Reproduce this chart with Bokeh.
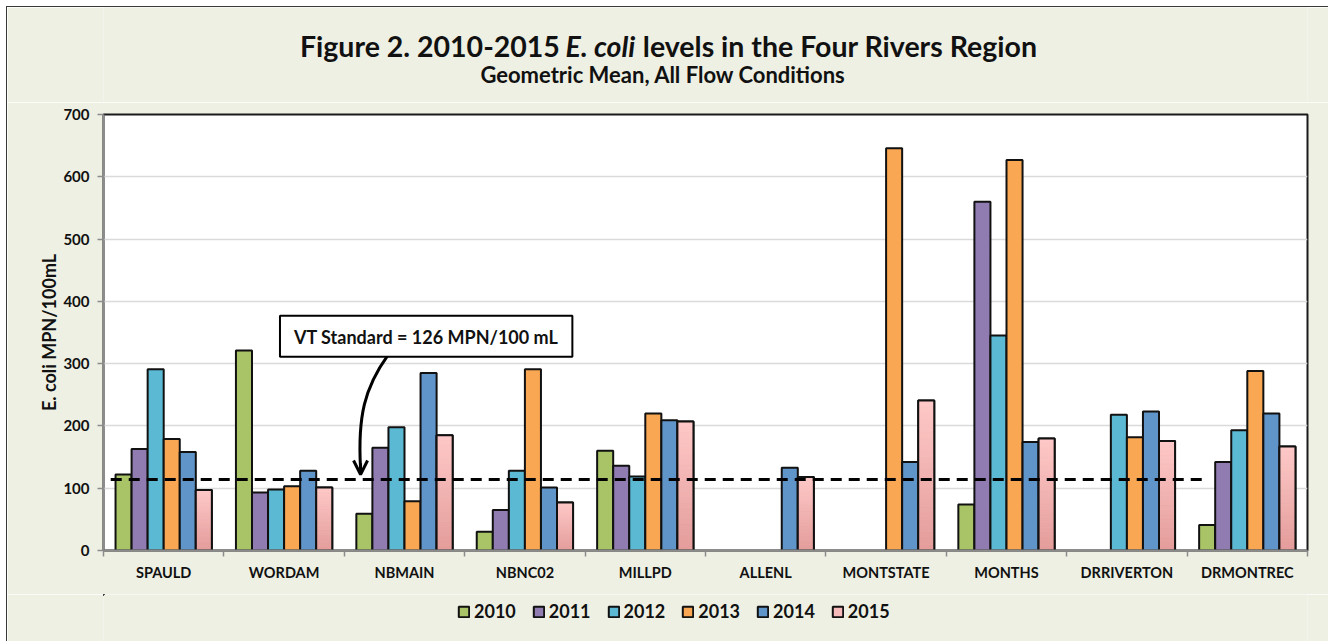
from bokeh.plotting import figure
from bokeh.layouts import column
from bokeh.models import (Range1d, LinearAxis, FixedTicker, ColumnDataSource, Label,
                          Legend, LegendItem, Arrow, OpenHead)
from bokeh.embed import file_html
from bokeh.resources import INLINE

# ---------------- data ----------------
sites = ["SPAULD", "WORDAM", "NBMAIN", "NBNC02", "MILLPD", "ALLENL",
         "MONTSTATE", "MONTHS", "DRRIVERTON", "DRMONTREC"]
years = ["2010", "2011", "2012", "2013", "2014", "2015"]
y2010 = [122, 321, 59, 30, 160, None, None, 74, None, 41]
y2011 = [163, 93, 165, 65, 136, None, None, 560, None, 142]
y2012 = [291, 98, 198, 128, 119, None, None, 345, 218, 193]
y2013 = [179, 103, 79, 291, 220, None, 646, 627, 182, 288]
y2014 = [158, 128, 285, 101, 209, 133, 142, 174, 223, 220]
y2015 = [97, 101, 185, 77, 207, 118, 241, 180, 176, 167]
series = [y2010, y2011, y2012, y2013, y2014, y2015]
y_ticks = [0, 100, 200, 300, 400, 500, 600, 700]
standard_line = 114
title_left = "Figure 2. 2010-2015"
title_italic = "E. coli"
title_right = "levels in the Four Rivers Region"
subtitle = "Geometric Mean,   All Flow Conditions"
y_label = "E. coli MPN/100mL"
note_text = "VT Standard = 126 MPN/100 mL"

# ---------------- style ----------------
colors = ["#a8c466", "#917cb1", "#5bb9d3", "#f9a752", "#6095c9", "#f7baba"]
pink_bottom = (0xe3, 0x9c, 0x9a)
pink_top = (0xfe, 0xc9, 0xc8)
FONT = "Lato"
BG = "#eef0e4"
INK = "#111111"
AXIS_GREY = "#8c8c8c"
OX, OY = 7, 7                 # page offset of the chart block (margin + border)
TW, TH = 1328 - OX, 641 - OY  # total block size
HH = 95                       # header height
MAIN_TOP, MAIN_BOTTOM = 12, 44
FRAME_L, FRAME_R, FRAME_T, FRAME_B = 103, 1307, 114, 550   # page pixels
MH = MAIN_TOP + (FRAME_B - FRAME_T) + MAIN_BOTTOM
FH = TH - HH - MH
BORDER_L = FRAME_L - OX
BORDER_R = TW - (FRAME_R - OX)


def band(height, page_top):
    # header / footer strip whose data coordinates are page pixels
    f = figure(width=TW, height=height, title=None,
               x_range=Range1d(FRAME_L, FRAME_R),
               y_range=Range1d(page_top + height, page_top),
               x_axis_location=None, y_axis_location=None,
               min_border_left=BORDER_L, min_border_right=BORDER_R,
               min_border_top=0, min_border_bottom=0,
               output_backend="svg", toolbar_location=None)
    f.grid.visible = False
    f.outline_line_color = None
    f.background_fill_color = BG
    f.border_fill_color = BG
    return f


# ---------------- header: title + subtitle ----------------
hdr = band(HH, OY)
tsize = 28.5
t_center = 662
gap = 0.2 * tsize
w_a, w_b, w_c = 8.97 * tsize, 2.51 * tsize, 13.26 * tsize
t_start = t_center - (w_a + gap + w_b + gap + w_c) / 2
xa_end = t_start + w_a
xb = xa_end + gap
xc = xb + w_b + gap
title_y = 45
common = dict(text_baseline="alphabetic", text_font=FONT, text_color=INK,
              text_font_size="%.1fpx" % tsize)
hdr.add_layout(Label(x=xa_end, y=title_y, text=title_left, text_align="right",
                     text_font_style="bold", **common))
hdr.add_layout(Label(x=xb, y=title_y, text=title_italic, text_align="left",
                     text_font_style="bold italic", **common))
hdr.add_layout(Label(x=xc, y=title_y, text=title_right, text_align="left",
                     text_font_style="bold", **common))
hdr.add_layout(Label(x=668, y=74, text=subtitle, text_align="center",
                     text_baseline="alphabetic", text_font=FONT, text_font_style="bold",
                     text_font_size="22px", text_color=INK))

# ---------------- main chart ----------------
n_sites = len(sites)
p = figure(width=TW, height=MH, title=None, x_range=Range1d(0, n_sites),
           y_range=Range1d(0, 700),
           x_axis_location=None, output_backend="svg", toolbar_location=None,
           min_border_left=BORDER_L, min_border_right=BORDER_R,
           min_border_top=MAIN_TOP, min_border_bottom=MAIN_BOTTOM)
p.border_fill_color = BG
p.background_fill_color = "white"
p.outline_line_color = "#1a1a1a"
p.outline_line_width = 2

ya = p.yaxis[0]
ya.ticker = FixedTicker(ticks=y_ticks)
ya.axis_line_color = AXIS_GREY
ya.axis_line_width = 2
ya.major_tick_line_color = AXIS_GREY
ya.major_tick_line_width = 1.5
ya.major_tick_out = 6
ya.major_tick_in = 0
ya.minor_tick_line_color = None
ya.major_label_text_font = FONT
ya.major_label_text_font_style = "bold"
ya.major_label_text_font_size = "15px"
ya.major_label_text_color = INK
ya.major_label_standoff = 8
ya.axis_label = y_label
ya.axis_label_text_font = FONT
ya.axis_label_text_font_style = "bold"
ya.axis_label_text_font_size = "18px"
ya.axis_label_text_color = INK
ya.axis_label_standoff = 0
p.ygrid.grid_line_color = "#dadada"
p.ygrid.grid_line_width = 1.5
p.xgrid.visible = False

centers = [i + 0.5 for i in range(n_sites)]
bounds = list(range(n_sites + 1))
xax = LinearAxis(ticker=FixedTicker(ticks=centers, minor_ticks=bounds),
                 major_label_overrides={c: s for c, s in zip(centers, sites)},
                 axis_line_color=AXIS_GREY, axis_line_width=2,
                 major_tick_line_color=None, major_tick_out=0, major_tick_in=0,
                 minor_tick_line_color=AXIS_GREY, minor_tick_line_width=1.5,
                 minor_tick_out=6, minor_tick_in=0,
                 major_label_standoff=7, major_label_text_font=FONT,
                 major_label_text_font_style="bold", major_label_text_font_size="14.5px",
                 major_label_text_color=INK)
p.add_layout(xax, "below")

n = len(years)
bw = 0.8 / n
for i, (yr, vals, col) in enumerate(zip(years, series, colors)):
    off = (i - (n - 1) / 2) * bw
    xs = [k + 0.5 + off for k, v in enumerate(vals) if v is not None]
    vs = [v for v in vals if v is not None]
    src = ColumnDataSource(dict(x=xs, val=vs))
    p.vbar(x="x", top="val", width=bw, source=src,
           fill_color=col, line_color=INK, line_width=2)
    if yr == "2015":
        N = 24
        bx, bb, bt, bc = [], [], [], []
        for x, v in zip(xs, vs):
            for k in range(N):
                t = (k + 0.5) / N
                c = tuple(int(round(a + (b - a) * t)) for a, b in zip(pink_bottom, pink_top))
                bx.append(x)
                bb.append(v * k / N)
                bt.append(v * (k + 1) / N)
                bc.append("#%02x%02x%02x" % c)
        gsrc = ColumnDataSource(dict(x=bx, b=bb, t=bt, c=bc))
        p.vbar(x="x", bottom="b", top="t", width=bw, source=gsrc,
               fill_color="c", line_color="c", line_width=0.6)
        p.vbar(x="x", top="val", width=bw, source=src,
               fill_color=None, line_color=INK, line_width=2)

p.segment(x0=0.06, y0=standard_line, x1=9.13, y1=standard_line,
          line_color="black", line_width=3, line_dash="11 7")

note = Label(x=2.68, y=344, text=note_text, text_align="center",
             text_baseline="middle", text_font=FONT, text_font_style="bold",
             text_font_size="18px", text_color=INK,
             background_fill_color="white", border_line_color="black",
             border_line_width=2, padding=dict(left=14, right=14, top=10, bottom=9))
p.add_layout(note)
p.bezier(x0=2.36, y0=313, x1=2.135, y1=132, cx0=2.17, cy0=262, cx1=2.11, cy1=215,
         line_color="black", line_width=3)
p.add_layout(Arrow(x_start=2.135, y_start=140, x_end=2.135, y_end=122,
                   line_color="black", line_width=3,
                   end=OpenHead(size=14, line_width=3, line_color="black")))

# ---------------- footer: legend ----------------
f_top = OY + HH + MH
ftr = band(FH, f_top)
items = []
for yr, col in zip(years, colors):
    # swatch-only renderer parked well outside the visible strip
    r = ftr.vbar(x=[FRAME_L - 2000], top=[f_top - 50], bottom=[f_top - 60], width=1,
                 fill_color=col, line_color=INK, line_width=2)
    items.append(LegendItem(label=yr, renderers=[r]))
legend = Legend(items=items, orientation="horizontal",
                location=(457 - FRAME_L, (f_top + FH) - 622),
                border_line_color=None, background_fill_alpha=0,
                label_text_font=FONT, label_text_font_style="bold",
                label_text_font_size="18px", label_text_color=INK,
                glyph_width=13, glyph_height=13, label_standoff=4, label_width=41,
                label_height=20, spacing=16, padding=0, margin=0)
ftr.add_layout(legend, "center")

layout = column(hdr, p, ftr, spacing=0,
                styles={"margin-left": "6px", "margin-top": "6px",
                        "border-left": "1px solid #3a3a3a",
                        "border-top": "1px solid #3a3a3a"})

open("out.html", "w").write(file_html(layout, INLINE))
